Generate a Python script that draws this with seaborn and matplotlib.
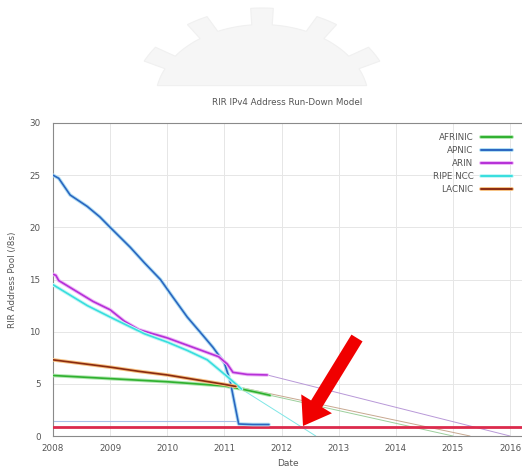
import numpy as np
import pandas as pd
import matplotlib
matplotlib.use("Agg")
import matplotlib.pyplot as plt
import matplotlib.patheffects as pe
from matplotlib.patches import Polygon, FancyArrow
import seaborn as sns

# ---------------- data ----------------
registries = ["AFRINIC", "APNIC", "ARIN", "RIPE NCC", "LACNIC"]

afrinic_years = [2008.0, 2008.5, 2009.0, 2009.5, 2010.0, 2010.5, 2011.0, 2011.3, 2011.6, 2011.8]
afrinic_pool = [5.8, 5.65, 5.5, 5.35, 5.2, 5.0, 4.8, 4.5, 4.15, 3.9]

apnic_years = [2008.0, 2008.1, 2008.3, 2008.6, 2008.82, 2009.0, 2009.35, 2009.6, 2009.88,
               2010.1, 2010.35, 2010.6, 2010.8, 2011.0, 2011.1, 2011.25, 2011.5, 2011.78]
apnic_pool = [25.0, 24.7, 23.1, 22.0, 21.0, 20.0, 18.1, 16.6, 15.0,
              13.3, 11.4, 9.8, 8.5, 7.0, 5.3, 1.15, 1.1, 1.1]

arin_years = [2008.0, 2008.05, 2008.1, 2008.4, 2008.7, 2009.0, 2009.25, 2009.5, 2009.75,
              2010.0, 2010.3, 2010.6, 2010.9, 2011.05, 2011.15, 2011.4, 2011.75]
arin_pool = [15.5, 15.4, 14.9, 13.9, 12.9, 12.1, 11.0, 10.2, 9.8,
             9.4, 8.8, 8.2, 7.6, 6.9, 6.1, 5.9, 5.85]

ripe_years = [2008.0, 2008.3, 2008.6, 2009.0, 2009.3, 2009.6, 2010.0, 2010.35, 2010.7, 2011.05, 2011.3]
ripe_pool = [14.5, 13.5, 12.5, 11.4, 10.6, 9.8, 9.0, 8.2, 7.3, 5.7, 4.5]

lacnic_years = [2008.0, 2008.5, 2009.0, 2009.5, 2010.0, 2010.5, 2011.0, 2011.2]
lacnic_pool = [7.3, 6.95, 6.6, 6.2, 5.85, 5.4, 4.95, 4.75]

# projected run-down (thin lines)
arin_proj_years = [2011.75, 2016.0]
arin_proj_pool = [5.85, 0.0]
lacnic_proj_years = [2011.2, 2015.3]
lacnic_proj_pool = [4.75, 0.0]
afrinic_proj_years = [2011.8, 2015.0]
afrinic_proj_pool = [3.9, 0.0]
ripe_proj_years = [2011.3, 2012.6]
ripe_proj_pool = [4.5, 0.0]

# reserve levels
final_level_years = [2008.0, 2016.3]
final_level_pool = [0.85, 0.85]
apnic_reserve_years = [2008.0, 2011.25]
apnic_reserve_pool = [1.4, 1.4]

x_ticks = [2008, 2009, 2010, 2011, 2012, 2013, 2014, 2015, 2016]
y_ticks = [0, 5, 10, 15, 20, 25, 30]

colors = {"AFRINIC": "#2fb02f", "APNIC": "#2a66c0", "ARIN": "#b530d8",
          "RIPE NCC": "#38dede", "LACNIC": "#8a2a10"}
halo = {"AFRINIC": "#b0e6b0", "APNIC": "#b0def4", "ARIN": "#eeb8f6",
        "RIPE NCC": "#c4f6f6", "LACNIC": "#f6c080"}
proj_colors = {"AFRINIC": "#9ccf9c", "APNIC": "#8aa8dd", "ARIN": "#b898d8",
               "RIPE NCC": "#7fe6e6", "LACNIC": "#c8a890"}

frames = []
for name, yrs, vals in [("AFRINIC", afrinic_years, afrinic_pool),
                        ("APNIC", apnic_years, apnic_pool),
                        ("ARIN", arin_years, arin_pool),
                        ("RIPE NCC", ripe_years, ripe_pool),
                        ("LACNIC", lacnic_years, lacnic_pool)]:
    frames.append(pd.DataFrame({"Date": yrs, "Pool": vals, "RIR": name}))
df = pd.concat(frames, ignore_index=True)

proj_frames = []
for name, yrs, vals in [("AFRINIC", afrinic_proj_years, afrinic_proj_pool),
                        ("ARIN", arin_proj_years, arin_proj_pool),
                        ("RIPE NCC", ripe_proj_years, ripe_proj_pool),
                        ("LACNIC", lacnic_proj_years, lacnic_proj_pool)]:
    proj_frames.append(pd.DataFrame({"Date": yrs, "Pool": vals, "RIR": name}))
proj = pd.concat(proj_frames, ignore_index=True)

# ---------------- figure ----------------
sns.set_theme(style="whitegrid")
plt.rcParams["font.family"] = ["DejaVu Sans"]

W, H = 522, 473
fig = plt.figure(figsize=(W / 100, H / 100), dpi=100)
fig.patch.set_facecolor("white")

# watermark gear (decoration)
bg = fig.add_axes([0, 0, 1, 1], zorder=0)
bg.set_xlim(0, W)
bg.set_ylim(H, 0)
bg.axis("off")
cx, cy, rx, ry = 262, 100, 130, 92
n_teeth = 12
ang = np.linspace(0, 2 * np.pi, n_teeth * 60, endpoint=False)
phase = (ang * n_teeth / (2 * np.pi) + 0.18) % 1.0
r = np.where(phase < 0.36, 1.0, 0.82)
gx = cx + rx * r * np.cos(ang + np.pi / 2)
gy = cy - ry * r * np.sin(ang + np.pi / 2)
mask = gy < 86
gear = Polygon(np.column_stack([gx[mask], gy[mask]]), closed=True,
               facecolor="#f6f6f6", edgecolor="#f0f0f0", lw=0.8)
bg.add_patch(gear)

ax = fig.add_axes([53 / W, 1 - 436 / H, 1 - 53 / W, (436 - 123) / H], zorder=1)
ax.set_facecolor("white")

# projections (thin)
sns.lineplot(data=proj, x="Date", y="Pool", hue="RIR", units="RIR", estimator=None,
             palette=proj_colors, lw=0.7, legend=False, ax=ax, sort=False)

# reserve level lines
ax.plot(apnic_reserve_years, apnic_reserve_pool, color="#a8c0e8", lw=0.8)
ax.plot(final_level_years, final_level_pool, color="#dc2a4c", lw=2.0, zorder=3)

# main series
sns.lineplot(data=df, x="Date", y="Pool", hue="RIR", hue_order=registries,
             units="RIR", estimator=None, palette=colors, lw=1.2, ax=ax,
             sort=False, zorder=4)
for line in ax.get_lines():
    lab = None
    c = matplotlib.colors.to_hex(line.get_color())
    for k, v in colors.items():
        if c.lower() == v.lower():
            lab = k
    if lab is not None and line.get_linewidth() > 1.0:
        line.set_path_effects([pe.Stroke(linewidth=2.6, foreground=halo[lab]), pe.Normal()])

ax.set_xlim(2008, 2016.21)
ax.set_ylim(0, 30)
ax.set_xticks(x_ticks)
ax.set_xticklabels([str(t) for t in x_ticks])
ax.set_yticks(y_ticks)
ax.grid(True, color="#e6e6e6", lw=0.7)
ax.tick_params(axis="both", direction="in", length=3, width=0.6, color="#909090",
               labelsize=6.3, labelcolor="#555555")
ax.tick_params(axis="x", pad=6)
ax.tick_params(axis="y", pad=9)
for s in ["left", "bottom", "top"]:
    ax.spines[s].set_visible(True)
    ax.spines[s].set_color("#8a8a8a")
    ax.spines[s].set_linewidth(0.8)
ax.spines["right"].set_visible(False)

ax.set_xlabel("Date", fontsize=6.5, color="#555555", labelpad=4)
ax.set_ylabel("RIR Address Pool (/8s)", fontsize=6.3, color="#555555", labelpad=9)
ax.set_title("RIR IPv4 Address Run-Down Model", fontsize=6.3, color="#555555", pad=13)

handles, labels = ax.get_legend_handles_labels()
leg = ax.legend(handles, labels, loc="upper right", bbox_to_anchor=(0.99, 0.985),
                frameon=False, markerfirst=False, fontsize=6.3, handlelength=3.6,
                labelspacing=0.45, handletextpad=0.8, borderaxespad=0.2)
for t in leg.get_texts():
    t.set_color("#555555")
for h, lab in zip(leg.legend_handles, labels):
    h.set_linewidth(1.4)
    h.set_path_effects([pe.Stroke(linewidth=2.8, foreground=halo[lab]), pe.Normal()])

# red arrow annotation
ov = fig.add_axes([0, 0, 1, 1], zorder=10)
ov.set_xlim(0, W)
ov.set_ylim(H, 0)
ov.axis("off")
ov.patch.set_alpha(0)
ov.add_patch(FancyArrow(357, 338, 303 - 357, 426 - 338, width=13, head_width=36,
                        head_length=26, length_includes_head=True,
                        color="#f00000", lw=0))

fig.savefig("out.png", dpi=100, facecolor="white")
